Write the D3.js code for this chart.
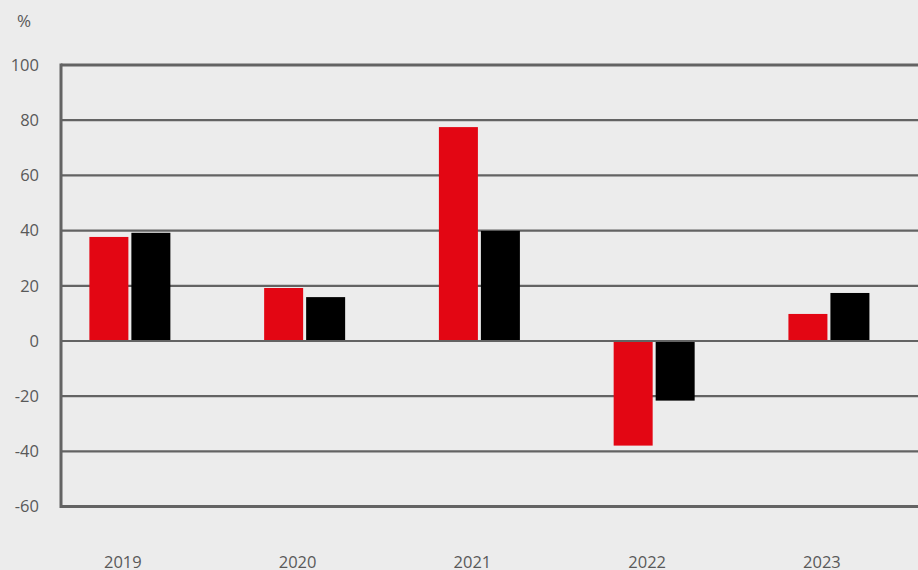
<!DOCTYPE html>
<html>
<head>
<meta charset="utf-8">
<script src="https://cdn.jsdelivr.net/npm/d3@7"></script>
<style>
  html, body { margin: 0; padding: 0; background: #ececec; }
  svg { display: block; }
</style>
</head>
<body>
<div id="chart"></div>
<script>
const years = ["2019", "2020", "2021", "2022", "2023"];
const redValues = [37.7, 19.2, 77.5, -37.9, 9.8];
const blackValues = [39.2, 15.9, 39.9, -21.6, 17.4];
const yTicks = [100, 80, 60, 40, 20, 0, -20, -40, -60];

const width = 918, height = 570;
const axisX = 61;

const svg = d3.select("#chart").append("svg")
  .attr("width", width)
  .attr("height", height);

svg.append("rect").attr("width", width).attr("height", height).attr("fill", "#ececec");

const y = d3.scaleLinear().domain([-60, 100]).range([506.6, 65]);
const x = d3.scaleBand().domain(years).range([42.5, 916.3]);

const font = "'Open Sans', 'Liberation Sans', sans-serif";
const textColor = "#595959";
const gridColor = "#636363";

// gridlines
svg.append("g")
  .selectAll("line")
  .data(yTicks)
  .join("line")
  .attr("x1", axisX)
  .attr("x2", width)
  .attr("y1", (d) => y(d))
  .attr("y2", (d) => y(d))
  .attr("stroke", gridColor)
  .attr("stroke-width", (d) => (d === -60 || d === 100 ? 3 : 2.2));

// y tick labels
svg.append("g")
  .selectAll("text")
  .data(yTicks)
  .join("text")
  .attr("x", 39)
  .attr("y", (d) => y(d))
  .attr("dy", "0.35em")
  .attr("text-anchor", "end")
  .attr("font-family", font)
  .attr("font-size", 16.5)
  .attr("fill", textColor)
  .text((d) => d);

svg.append("text")
  .attr("x", 24)
  .attr("y", 21)
  .attr("dy", "0.35em")
  .attr("text-anchor", "middle")
  .attr("font-family", font)
  .attr("font-size", 17)
  .attr("fill", textColor)
  .text("%");

const barW = 39, gap = 3;
const cx = (d) => x(d) + x.bandwidth() / 2;

svg.append("g")
  .selectAll("rect")
  .data(years.map((yr, i) => ({ yr, v: redValues[i] })))
  .join("rect")
  .attr("x", (d) => cx(d.yr) - gap / 2 - barW)
  .attr("width", barW)
  .attr("y", (d) => y(Math.max(0, d.v)))
  .attr("height", (d) => Math.abs(y(d.v) - y(0)))
  .attr("fill", "#e30613");

svg.append("g")
  .selectAll("rect")
  .data(years.map((yr, i) => ({ yr, v: blackValues[i] })))
  .join("rect")
  .attr("x", (d) => cx(d.yr) + gap / 2)
  .attr("width", barW)
  .attr("y", (d) => y(Math.max(0, d.v)))
  .attr("height", (d) => Math.abs(y(d.v) - y(0)))
  .attr("fill", "#000000");

// zero line on top
svg.append("line")
  .attr("x1", axisX).attr("x2", width)
  .attr("y1", y(0)).attr("y2", y(0))
  .attr("stroke", gridColor)
  .attr("stroke-width", 2.2);

// left axis
svg.append("line")
  .attr("x1", axisX).attr("x2", axisX)
  .attr("y1", y(100) - 1.5).attr("y2", y(-60) + 1.5)
  .attr("stroke", gridColor)
  .attr("stroke-width", 3);

// year labels
svg.append("g")
  .selectAll("text")
  .data(years)
  .join("text")
  .attr("x", (d) => cx(d) - 7)
  .attr("y", 568)
  .attr("text-anchor", "middle")
  .attr("font-family", font)
  .attr("font-size", 16.5)
  .attr("fill", textColor)
  .text((d) => d);
</script>
</body>
</html>
